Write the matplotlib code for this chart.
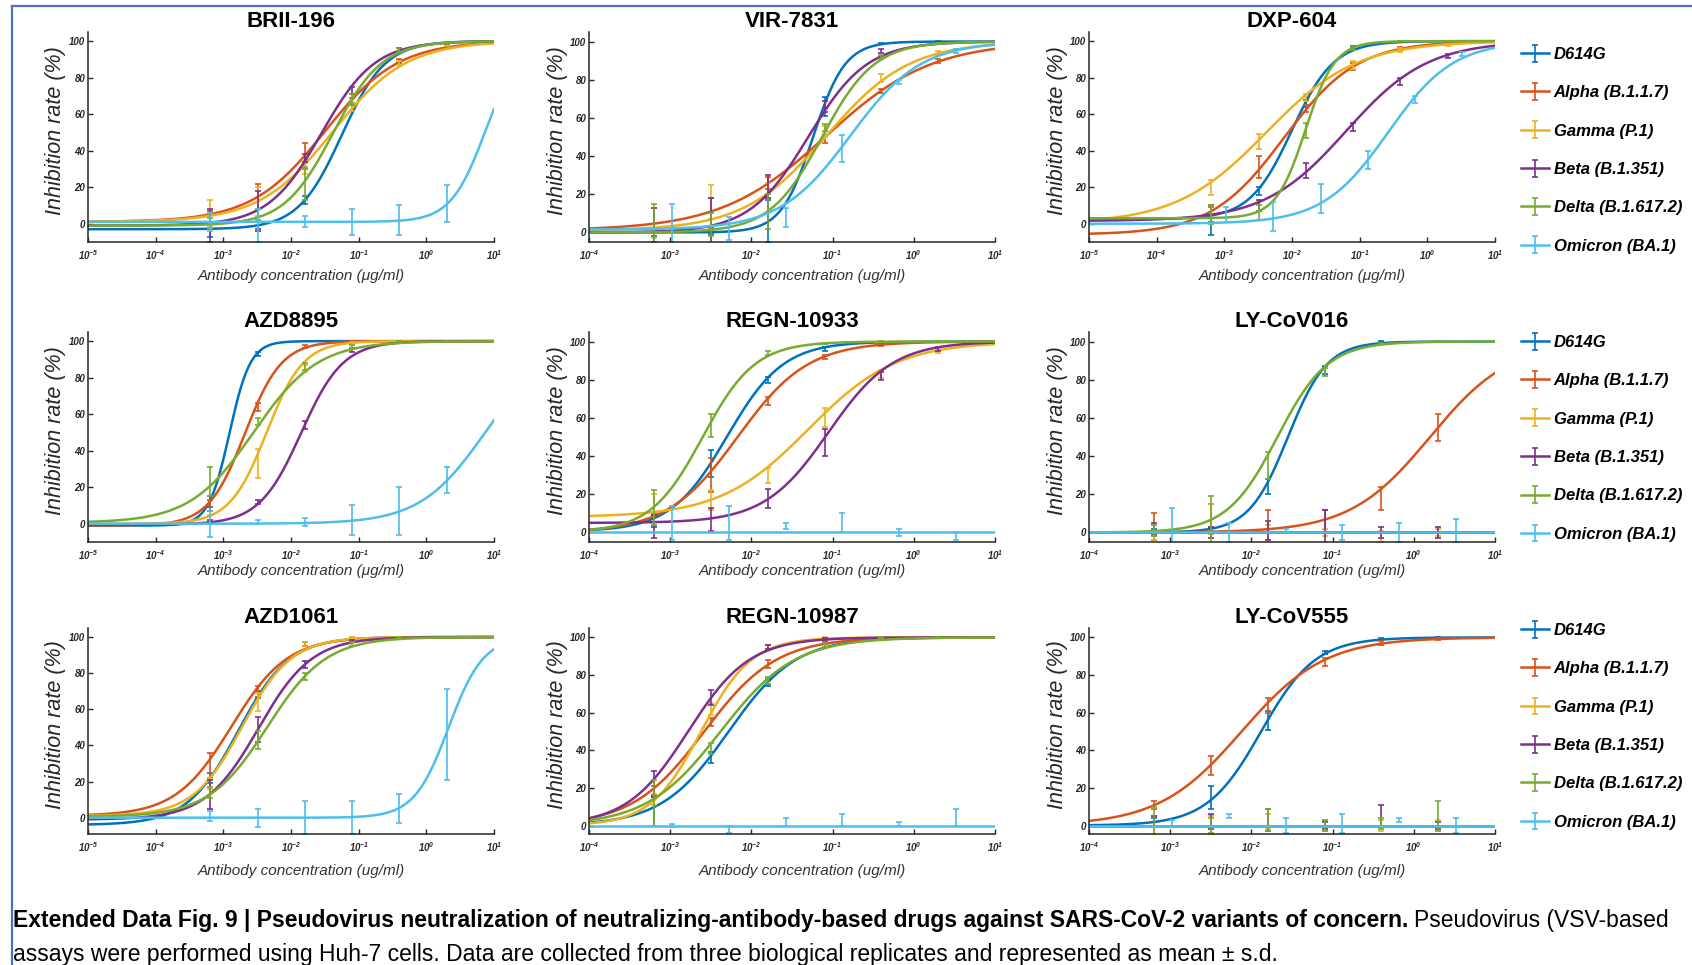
import numpy as np
import matplotlib
matplotlib.use("Agg")
import matplotlib.pyplot as plt
from matplotlib.lines import Line2D
from matplotlib.ticker import FixedLocator, NullLocator, LogFormatterSciNotation

# ---- data ----
variants = ["D614G", "Alpha (B.1.1.7)", "Gamma (P.1)", "Beta (B.1.351)",
            "Delta (B.1.617.2)", "Omicron (BA.1)"]
colors = ["#0072BD", "#D95319", "#EDB120", "#7E2F8E", "#77AC30", "#4DBEEE"]

# five-fold dilution series (ug/ml); Omicron was tested on a shifted series in some panels
conc = [0.00064, 0.0032, 0.016, 0.08, 0.4, 2.0]
conc_omi = [0.00106, 0.0053, 0.0264, 0.132, 0.66, 3.3]

# fitted 4PL curves: [bottom, top, log10 IC50, hill], one row per variant
# measured points: mean and s.d. at each concentration, one row per variant
brii_fit = [[-3, 100, -1.25, 1.35], [1, 100, -1.5, 0.8], [1, 100, -1.38, 0.8],
            [-1, 100, -1.55, 1.1], [-1, 100, -1.38, 1.2], [1, 100, 0.87, 1.7]]
brii_mean = [[-3, -1, 13, 64, 95, 99], [4, 15, 37, 67, 89, 98], [6, 12, 31, 64, 88, 98],
             [-1, 7, 36, 73, 95, 99], [0, 5, 22, 68, 95, 99], [1, -1, 1, 1, 2, 11]]
brii_sd = [[4, 2, 2, 2, 1, 0.5], [3, 7, 7, 2, 1, 0.5], [7, 8, 4, 2, 1, 0.5],
           [9, 11, 2, 2, 1, 0.5], [3, 3, 9, 3, 1, 0.5], [5, 9, 3, 7, 8, 10]]

vir_fit = [[0, 100, -1.24, 2.2], [1, 100, -1.08, 0.67], [1, 100, -1.08, 0.85],
           [0, 100, -1.3, 1.2], [0, 100, -1.13, 1.35], [1.5, 100, -0.78, 1.0]]
vir_mean = [[0, 1, 6, 66, 99, 100], [4, 10, 26, 49, 74, 90], [5, 16, 22, 53, 81, 94],
            [4, 6, 24, 66, 95, 99], [5, 4, 11, 55, 92, 99], [5, 2, 8, 44, 79, 95]]
vir_sd = [[2, 2, 11, 5, 0.5, 0.2], [9, 8, 3, 2, 1, 1], [8, 9, 4, 3, 2, 1],
          [9, 12, 6, 3, 1, 0.5], [10, 6, 9, 2, 1, 0.5], [10, 6, 5, 7, 1, 1]]

dxp_fit = [[2.5, 100, -2.0, 1.4], [-6, 100, -2.12, 0.8], [0, 100, -2.38, 0.65],
           [1.5, 100, -1.2, 0.72], [3, 100, -1.8, 2.0], [0, 100, -0.58, 0.9]]
dxp_mean = [[2, 18, 66, 97, 100, 100], [7, 31, 63, 86, 96, 99], [20, 45, 69, 87, 95, 98],
            [3, 10, 29, 53, 78, 92], [5, 6, 51, 96, 100, 100], [5, 4, 14, 35, 68, 93]]
dxp_sd = [[8, 2, 2, 0.5, 0.2, 0.2], [2, 6, 2, 2, 1, 0.5], [4, 4, 2, 2, 1, 0.5],
          [2, 3, 4, 2, 2, 1], [5, 4, 4, 1, 0.2, 0.2], [4, 8, 8, 5, 2, 1]]

azd8895_fit = [[-1, 100, -2.91, 2.8], [-1, 100, -2.68, 1.6], [0, 100, -2.36, 1.6],
               [-0.5, 100, -1.85, 1.4], [0.5, 100, -2.55, 0.92], [0, 100, 0.87, 0.9]]
azd8895_mean = [[12, 93, 100, 100, 100, 100], [10, 64, 97, 100, 100, 100],
                [3, 33, 85, 99, 100, 100], [1, 12, 54, 95, 100, 100],
                [23, 56, 86, 97, 100, 100], [0, 1, 1, 2, 7, 24]]
azd8895_sd = [[3, 1, 0.2, 0.2, 0.2, 0.2], [3, 2, 1, 0.2, 0.2, 0.2], [2, 8, 2, 0.5, 0.2, 0.2],
              [1, 1, 2, 1, 0.2, 0.2], [8, 2, 2, 1, 0.2, 0.2], [7, 1, 2, 8, 13, 7]]

r10933_fit = [[0.5, 100, -2.3, 1.25], [0, 100, -2.17, 1.0], [8, 100, -1.3, 0.8],
              [5, 100, -1.05, 1.1], [0, 100, -2.6, 1.35], [0, 0, 0, 1]]
r10933_mean = [[6, 36, 80, 96, 99, 100], [7, 30, 69, 92, 98, 100], [12, 17, 30, 60, 83, 95],
               [3, 7, 18, 47, 82, 96], [13, 56, 94, 99, 100, 100], [5, 5, 3.5, 5, 0, -2]]
r10933_sd = [[3, 7, 1.5, 1, 0.5, 0.2], [3, 9, 2, 1, 0.5, 0.2], [8, 5, 4, 5, 2, 1],
             [6, 6, 5, 7, 2, 1], [9, 6, 1, 0.5, 0.2, 0.2], [9, 9, 1.5, 5, 2, 2]]

ly016_fit = [[0, 100, -1.55, 1.8], [0, 100, 0.2, 0.88], [0, 0, 0, 1],
             [0, 0, 0, 1], [0, 100, -1.68, 1.4], [0, 0, 0, 1]]
ly016_mean = [[0, 1, 24, 85, 100, 100], [3, 7, 4, 6, 18, 55], [0, 7, 0, 0, -2, 0],
              [2, 0, 1, 3, 0, 0], [1, 6, 35, 84, 99, 100], [1, 0, 1, 0, 0, 1]]
ly016_sd = [[2, 2, 4, 2, 0.2, 0.2], [7, 8, 8, 6, 6, 7], [4, 8, 4, 2, 3, 2],
            [3, 3, 5, 9, 3, 3], [3, 13, 7, 2, 0.5, 0.2], [12, 5, 1, 4, 5, 6]]

azd1061_fit = [[-4, 100, -2.78, 1.15], [1, 100, -2.88, 1.05], [1, 100, -2.72, 1.2],
               [-1, 100, -2.48, 1.1], [0.5, 100, -2.35, 1.0], [0, 100, 0.33, 1.7]]
azd1061_mean = [[22, 68, 96, 100, 100, 100], [29, 70, 96, 100, 100, 100],
                [19, 64, 96, 100, 100, 100], [13, 49, 85, 98, 100, 100],
                [14, 43, 78, 96, 100, 100], [1, 0, 0, 0, 5, 46]]
azd1061_sd = [[3, 2, 1, 0.2, 0.2, 0.2], [7, 3, 1, 0.2, 0.2, 0.2], [3, 5, 1, 0.2, 0.2, 0.2],
              [8, 7, 2, 0.5, 0.2, 0.2], [3, 5, 2, 1, 0.2, 0.2], [3, 5, 9, 9, 8, 25]]

r10987_fit = [[0, 100, -2.28, 1.05], [0, 100, -2.58, 0.98], [0, 100, -2.62, 1.4],
              [0, 100, -2.78, 1.15], [0, 100, -2.38, 0.95], [0, 0, 0, 1]]
r10987_mean = [[8, 36, 76, 97, 100, 100], [18, 55, 86, 98, 100, 100],
               [14, 62, 95, 100, 100, 100], [22, 68, 95, 99, 100, 100],
               [12, 41, 77, 96, 100, 100], [0, -2, 2, 3, 1, 4.5]]
r10987_sd = [[8, 3, 2, 0.5, 0.2, 0.2], [3, 2, 2, 0.5, 0.2, 0.2], [3, 3, 1, 0.2, 0.2, 0.2],
             [7, 4, 1, 0.5, 0.2, 0.2], [12, 3, 2, 1, 0.2, 0.2], [1, 2, 2, 3, 1, 4.5]]

ly555_fit = [[0, 100, -1.88, 1.3], [0, 100, -2.12, 0.85], [0, 0, 0, 1],
             [0, 0, 0, 1], [0, 0, 0, 1], [0, 0, 0, 1]]
ly555_mean = [[2, 15, 56, 92, 99, 100], [11, 32, 64, 87, 97, 99], [0, 0, 2, 0, 0, 0],
              [2, 2, 3, 0, 5, 0], [2, 0, 3, 0, 1, 5], [1, 5, 0, 1, 3, 0]]
ly555_sd = [[2, 6, 5, 1, 0.5, 0.2], [2, 5, 4, 2, 1, 0.5], [5, 5, 4, 3, 3, 3],
            [3, 4, 6, 2, 6, 2], [8, 4, 6, 3, 3, 8], [2, 1, 4, 5, 1, 4]]

panels = [
    ("BRII-196", -5, "μg/ml", brii_fit, brii_mean, brii_sd, conc),
    ("VIR-7831", -4, "ug/ml", vir_fit, vir_mean, vir_sd, conc_omi),
    ("DXP-604", -5, "μg/ml", dxp_fit, dxp_mean, dxp_sd, conc_omi),
    ("AZD8895", -5, "μg/ml", azd8895_fit, azd8895_mean, azd8895_sd, conc),
    ("REGN-10933", -4, "ug/ml", r10933_fit, r10933_mean, r10933_sd, conc_omi),
    ("LY-CoV016", -4, "ug/ml", ly016_fit, ly016_mean, ly016_sd, conc_omi),
    ("AZD1061", -5, "ug/ml", azd1061_fit, azd1061_mean, azd1061_sd, conc),
    ("REGN-10987", -4, "ug/ml", r10987_fit, r10987_mean, r10987_sd, conc_omi),
    ("LY-CoV555", -4, "ug/ml", ly555_fit, ly555_mean, ly555_sd, conc_omi),
]

caption_bold = ("Extended Data Fig. 9 | Pseudovirus neutralization of neutralizing-antibody-based "
                "drugs against SARS-CoV-2 variants of concern.")
caption_rest = "Pseudovirus (VSV-based"
caption_line2 = ("assays were performed using Huh-7 cells. Data are collected from three "
                 "biological replicates and represented as mean ± s.d.")


def four_pl(x, bottom, top, log_ic50, hill):
    return bottom + (top - bottom) / (1 + 10 ** ((log_ic50 - np.log10(x)) * hill))


# ---- layout (pixels) ----
W, H = 1692, 965
col_left = [88, 589, 1089]
ax_w = 406
row_top = [32, 332, 628]
row_bot = [242, 542, 834]
ylow = [-10, -5, -10, -10, -5, -5, -9, -4.5, -4.5]
xlab_y = [276, 571, 871]
legend_top = [47, 335, 623]
ink = "#262626"

plt.rcParams["font.family"] = "Liberation Sans"
plt.rcParams["font.style"] = "italic"
plt.rcParams["font.weight"] = "bold"

fig = plt.figure(figsize=(W / 100, H / 100), dpi=100)

for i, (name, xmin, unit, fit, mean, sd, omi_x) in enumerate(panels):
    r, c = divmod(i, 3)
    top, bot = row_top[r], row_bot[r]
    ax = fig.add_axes([col_left[c] / W, 1 - bot / H, ax_w / W, (bot - top) / H])
    xs = np.logspace(xmin, 1, 400)
    for k in range(6):
        xk = omi_x if k == 5 else conc
        ax.errorbar(xk, mean[k], yerr=sd[k], fmt="none", ecolor=colors[k],
                    elinewidth=1.2, capsize=2.0, capthick=1.2)
        ax.plot(xs, four_pl(xs, *fit[k]), color=colors[k], lw=1.8)

    ax.set_xscale("log")
    ax.set_xlim(10.0 ** xmin, 10)
    ax.set_ylim(ylow[i], 105)
    ax.xaxis.set_major_locator(FixedLocator(10.0 ** np.arange(xmin, 2)))
    ax.xaxis.set_major_formatter(LogFormatterSciNotation())
    ax.xaxis.set_minor_locator(NullLocator())
    ax.set_yticks([0, 20, 40, 60, 80, 100])
    for s in ["top", "right"]:
        ax.spines[s].set_visible(False)
    for s in ["left", "bottom"]:
        ax.spines[s].set_color(ink)
        ax.spines[s].set_linewidth(1.1)
    ax.tick_params(direction="in", length=3.5, width=1.0, colors=ink, labelsize=7)
    ax.tick_params(axis="x", pad=4.5)
    ax.tick_params(axis="y", pad=2)

    ax.set_title(name, fontsize=16, fontweight="bold", fontstyle="normal", pad=1.5)
    ax.set_ylabel("Inhibition rate (%)", fontsize=15.5, color=ink, va="center")
    ax.yaxis.set_label_coords(-32 / ax_w, (bot - (top + bot) / 2 + 6) / (bot - top))
    ax.set_xlabel(f"Antibody concentration ({unit})", fontsize=11, color="#333333", va="center")
    ax.xaxis.set_label_coords(0.5 + 10 / ax_w, -(xlab_y[r] - bot) / (bot - top))

    if c == 2:
        handles = [ax.errorbar([np.nan], [np.nan], yerr=[np.nan], color=col, lw=1.8,
                               elinewidth=1.2, capsize=2.5, capthick=1.2) for col in colors]
        ax.legend(handles, variants, loc="upper left",
                  bbox_to_anchor=(1 + 26 / ax_w, (bot - legend_top[r]) / (bot - top)),
                  frameon=False, fontsize=12, handlelength=1.7, handletextpad=0.25,
                  labelspacing=1.4, borderpad=0, borderaxespad=0)

# caption below the panels
cap_size = 16.5
t1 = fig.text(13 / W, 1 - 927 / H, caption_bold, fontsize=cap_size, fontweight="bold",
              fontstyle="normal", va="baseline", ha="left", color="black")
fig.canvas.draw()
bb = t1.get_window_extent(fig.canvas.get_renderer())
fig.text((bb.x1 + 6) / W, 1 - 927 / H, caption_rest, fontsize=cap_size, fontweight="normal",
         fontstyle="normal", va="baseline", ha="left", color="black")
fig.text(13 / W, 1 - 961 / H, caption_line2, fontsize=cap_size, fontweight="normal",
         fontstyle="normal", va="baseline", ha="left", color="black")

# blue frame from the page layout
frame = "#4a72c2"
fig.add_artist(Line2D([12 / W, 12 / W], [0, 1 - 6 / H], transform=fig.transFigure,
                      color=frame, lw=1.6))
fig.add_artist(Line2D([12 / W, 1], [1 - 6 / H, 1 - 6 / H], transform=fig.transFigure,
                      color=frame, lw=1.6))

fig.savefig("out.png", dpi=100)
